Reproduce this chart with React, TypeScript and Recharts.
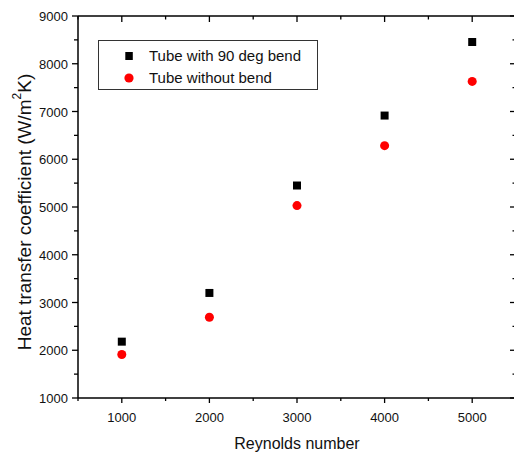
import { ScatterChart, Scatter, XAxis, YAxis } from 'recharts'

// Reynolds numbers tested
const reynolds = [1000, 2000, 3000, 4000, 5000]
// heat transfer coefficient, W/m^2K
const bentTube = [2180, 3200, 5450, 6915, 8455]
const straightTube = [1910, 2690, 5030, 6285, 7630]

const seriesNames = ['Tube with 90 deg bend', 'Tube without bend']

const xTicks = [500, 1000, 1500, 2000, 2500, 3000, 3500, 4000, 4500, 5000, 5500]
const yTicks = [1000, 1500, 2000, 2500, 3000, 3500, 4000, 4500, 5000, 5500, 6000, 6500, 7000, 7500, 8000, 8500, 9000]

const bentData = reynolds.map((re, i) => ({ re, h: bentTube[i] }))
const straightData = reynolds.map((re, i) => ({ re, h: straightTube[i] }))

const X_DOMAIN: [number, number] = [500, 5500]
const Y_DOMAIN: [number, number] = [1000, 9000]

// chart layout
const CHART_W = 520
const CHART_H = 454
const MARGIN = { top: 16, right: 4, bottom: 16, left: 18 }
const Y_AXIS_W = 60
const PLOT_W = CHART_W - MARGIN.left - MARGIN.right - Y_AXIS_W

const FONT = '"Liberation Sans", Arial, sans-serif'
const isMajor = (v: number) => v % 1000 === 0

// tick renderers draw their own tick marks so major/minor can differ in length
const BottomTick = ({ x, y, payload }: any) => {
  const major = isMajor(payload.value)
  return (
    <g>
      <line x1={x} x2={x} y1={y} y2={y + (major ? 5 : 3)} stroke="#000" strokeWidth={1.3} />
      {major && (
        <text x={x} y={y + 24} textAnchor="middle" fontSize={13} fontFamily={FONT} fill="#111">
          {payload.value}
        </text>
      )}
    </g>
  )
}

// left ticks also mirror themselves onto the right edge; the top tick
// (highest value) draws the top frame line with its inward ticks
const LeftTick = ({ x, y, payload }: any) => {
  const v = payload.value
  const major = isMajor(v)
  const right = x + PLOT_W
  const isTop = v === Y_DOMAIN[1]
  return (
    <g>
      <line x1={x} x2={x - (major ? 6 : 4)} y1={y} y2={y} stroke="#000" strokeWidth={1.3} />
      <line x1={right} x2={right - (major ? 6 : 3.5)} y1={y} y2={y} stroke="#000" strokeWidth={1.3} />
      {major && (
        <text x={x - 10} y={y + 5} textAnchor="end" fontSize={13} fontFamily={FONT} fill="#111">
          {v}
        </text>
      )}
      {isTop && (
        <g>
          <line x1={x} x2={right} y1={y} y2={y} stroke="#000" strokeWidth={1.5} />
          {xTicks.map((t) => {
            const tx = x + ((t - X_DOMAIN[0]) / (X_DOMAIN[1] - X_DOMAIN[0])) * PLOT_W
            return <line key={t} x1={tx} x2={tx} y1={y} y2={y + (isMajor(t) ? 6 : 3.5)} stroke="#000" strokeWidth={1.3} />
          })}
        </g>
      )}
    </g>
  )
}

const YTitle = ({ viewBox }: any) => {
  const cx = viewBox.x + 6
  const cy = viewBox.y + viewBox.height / 2 + 5
  return (
    <text
      x={cx}
      y={cy}
      transform={`rotate(-90 ${cx} ${cy})`}
      textAnchor="middle"
      dominantBaseline="central"
      fontSize={19}
      fontFamily={FONT}
      fill="#111"
    >
      Heat transfer coefficient (W/m
      <tspan fontSize={12} dy={-7}>2</tspan>
      <tspan dy={7}>K)</tspan>
    </text>
  )
}

const LegendBox = () => (
  <div
    style={{
      position: 'absolute',
      left: 98,
      top: 40,
      width: 220,
      height: 50,
      boxSizing: 'border-box',
      border: '1px solid #333',
      background: '#fff',
      fontFamily: FONT,
      fontSize: 15,
      color: '#111',
    }}
  >
    {seriesNames.map((name, i) => (
      <div key={name} style={{ position: 'absolute', left: 0, top: i === 0 ? 5 : 27, height: 20, width: '100%' }}>
        <svg width={20} height={20} style={{ position: 'absolute', left: 20, top: 0 }}>
          {i === 0 ? <rect x={6.3} y={6} width={7.5} height={8} fill="#000" /> : <circle cx={10} cy={10} r={4.6} fill="#ff0000" />}
        </svg>
        <span style={{ position: 'absolute', left: 50, top: 1, lineHeight: '18px', whiteSpace: 'nowrap' }}>{name}</span>
      </div>
    ))}
  </div>
)

export default function App() {
  return (
    <div style={{ position: 'absolute', left: 0, top: 0, width: 514, height: 454, overflow: 'hidden', background: '#fff' }}>
      <ScatterChart width={CHART_W} height={CHART_H} margin={MARGIN}>
        <XAxis
          dataKey="re"
          type="number"
          domain={X_DOMAIN}
          ticks={xTicks}
          interval={0}
          axisLine={{ stroke: '#000', strokeWidth: 1.5 }}
          tickLine={false}
          tickSize={0}
          tickMargin={0}
          tick={BottomTick}
          height={40}
          label={{
            value: 'Reynolds number',
            position: 'insideBottom',
            offset: -11,
            fontSize: 16,
            fontFamily: FONT,
            fill: '#111',
          }}
        />
        <YAxis
          dataKey="h"
          type="number"
          domain={Y_DOMAIN}
          ticks={yTicks}
          interval={0}
          axisLine={{ stroke: '#000', strokeWidth: 1.5 }}
          tickLine={false}
          tickSize={0}
          tickMargin={0}
          tick={LeftTick}
          width={Y_AXIS_W}
          label={<YTitle />}
        />
        <Scatter
          name={seriesNames[0]}
          data={bentData}
          shape="square"
          fill="#000"
          size={58}
          isAnimationActive={false}
        />
        <Scatter
          name={seriesNames[1]}
          data={straightData}
          shape="circle"
          fill="#ff0000"
          size={66}
          isAnimationActive={false}
        />
      </ScatterChart>
      <LegendBox />
    </div>
  )
}
